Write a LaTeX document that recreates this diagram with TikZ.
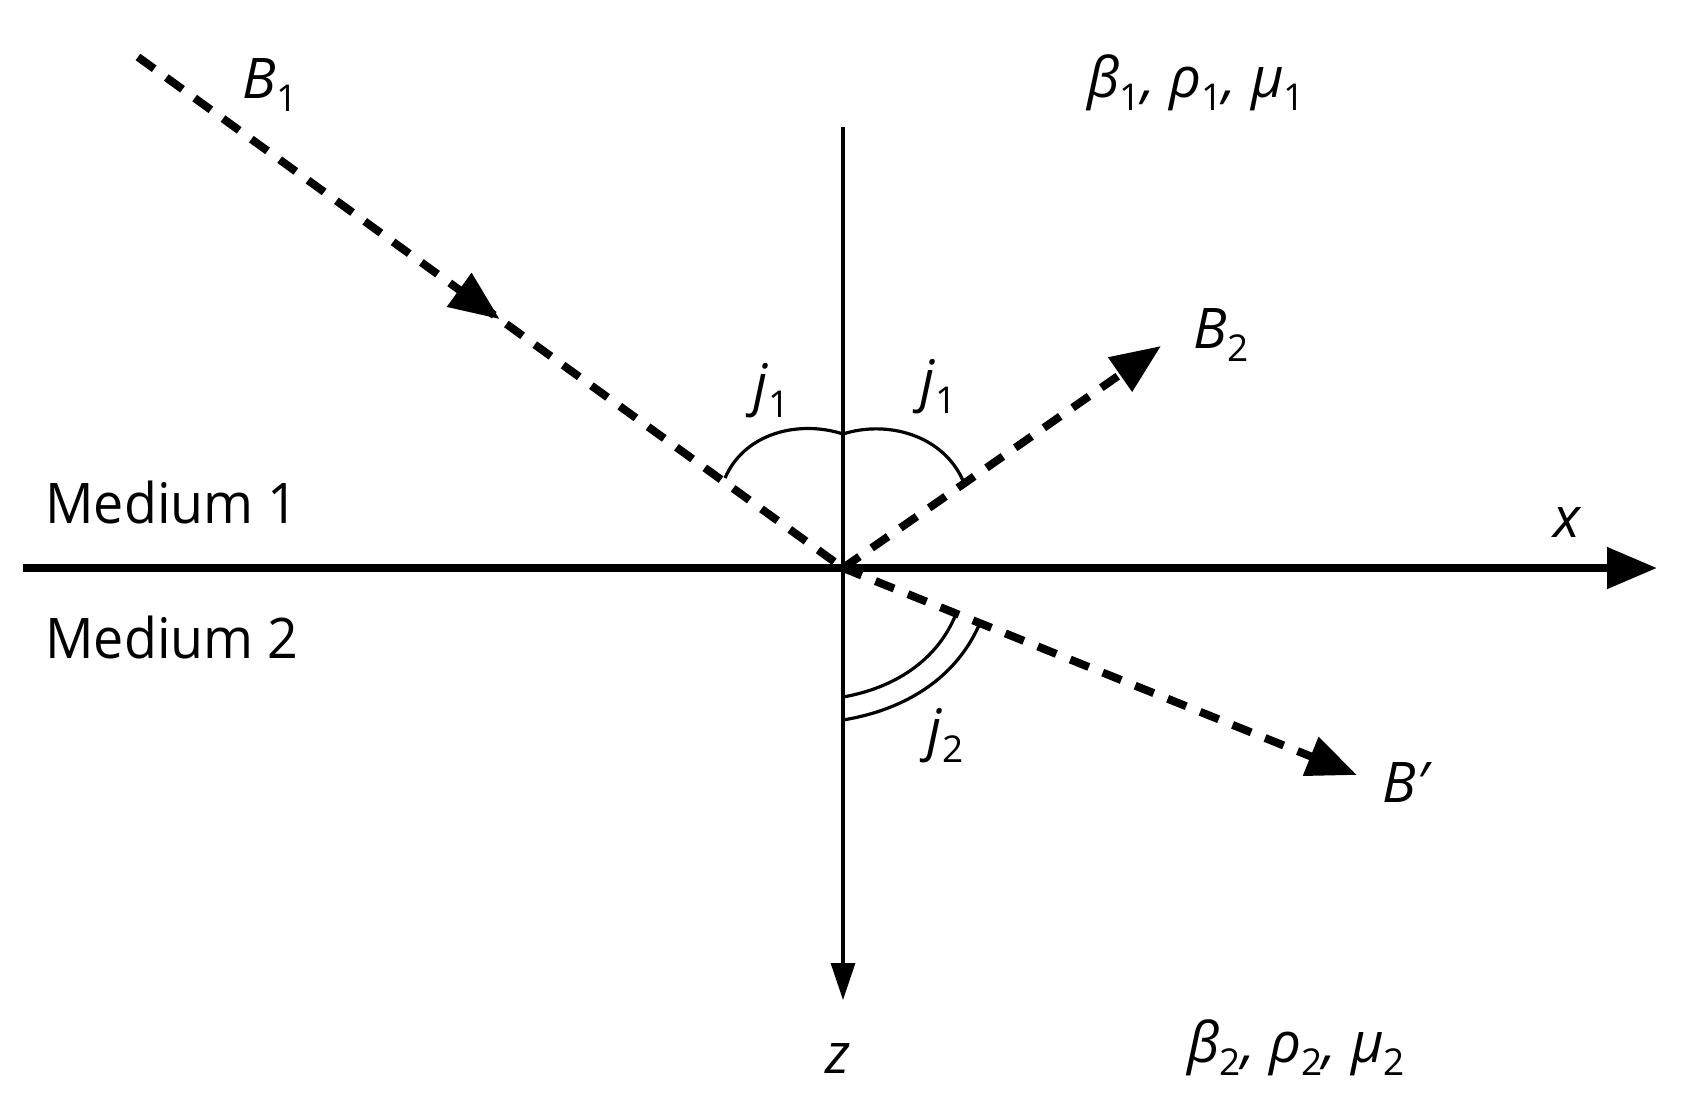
\documentclass[tikz,border=0pt]{standalone}
\usepackage{fontspec}
\setmainfont{Open Sans}
\newfontfamily\medfont[FakeStretch=0.96]{Open Sans}
\usetikzlibrary{arrows.meta,decorations.markings}
\newcommand\sbs[1]{\raisebox{-0.24em}{\fontsize{18.5}{20}\selectfont #1}}
\begin{document}
\begin{tikzpicture}[x=0.5pt,y=-0.5pt,
  lbl/.style={inner sep=0pt,font=\fontsize{28}{32}\selectfont},
  ray/.style={line width=4pt,dash pattern=on 10pt off 7.5pt},
  axisx/.style={line width=4pt,-{Triangle[length=25pt,width=20pt]}},
  axisz/.style={line width=1.6pt,-{Triangle[length=18.5pt,width=12pt]}},
  arcline/.style={line width=1.6pt},
  tipB/.style={-{Triangle[length=25pt,width=20pt]}}]
\useasboundingbox (0,0) rectangle (1684,1108);
\coordinate (O) at (843,568);
\coordinate (b1s) at (138,57);
\coordinate (b2e) at (1161,346);
\coordinate (bpe) at (1357,775);
\coordinate (xl) at (23,568);
\coordinate (xr) at (1657,568);
\coordinate (zt) at (843,127);
\coordinate (zb) at (843,1000);
% axes
\draw[axisx] (xl) -- (xr);
\draw[axisz] (zt) -- (zb);
% rays
\draw[ray,postaction={decorate},decoration={markings,
  mark=at position 0.513 with {\arrow{Triangle[length=25pt,width=20pt]}}}] (b1s) -- (O);
\draw[ray,tipB] (O) -- (b2e);
\draw[ray,tipB] (O) -- (bpe);
% angle arcs
\draw[arcline] (725,478) .. controls (745,432) and (800,420) .. (843,434);
\draw[arcline] (843,434) .. controls (886,420) and (944,434) .. (964,483);
\draw[arcline] (843,697) .. controls (894,688) and (937,661) .. (956,614);
\draw[arcline] (843,720) .. controls (904,710) and (956,679) .. (980,623);
% labels
\node[lbl,anchor=base west] (B1) at (242,98) {\textit{B}\sbs{1}};
\node[lbl,anchor=base west] (par1) at (1087,97) {\textit{β}\sbs{1}\textit{, ρ}\sbs{1}\textit{, μ}\sbs{1}};
\node[lbl,anchor=base west] (B2) at (1193,348) {\textit{B}\sbs{2}};
\node[lbl,anchor=base west] (j1l) at (753,404) {\textit{j}\sbs{1}};
\node[lbl,anchor=base west] (j1r) at (920,400) {\textit{j}\sbs{1}};
\node[lbl,anchor=base west] (j2) at (927,749) {\textit{j}\sbs{2}};
\node[lbl,anchor=base west] (med1) at (45,523) {\medfont Medium 1};
\node[lbl,anchor=base west] (med2) at (45,658) {\medfont Medium 2};
\node[lbl] (xlab) at (1568,523) {\textit{x}};
\node[lbl,anchor=base west] (Bp) at (1382,802) {\textit{B′}};
\node[lbl] (zlab) at (838,1058) {\textit{z}};
\node[lbl,anchor=base west] (par2) at (1187,1062) {\textit{β}\sbs{2}\textit{, ρ}\sbs{2}\textit{, μ}\sbs{2}};
\end{tikzpicture}
\end{document}
